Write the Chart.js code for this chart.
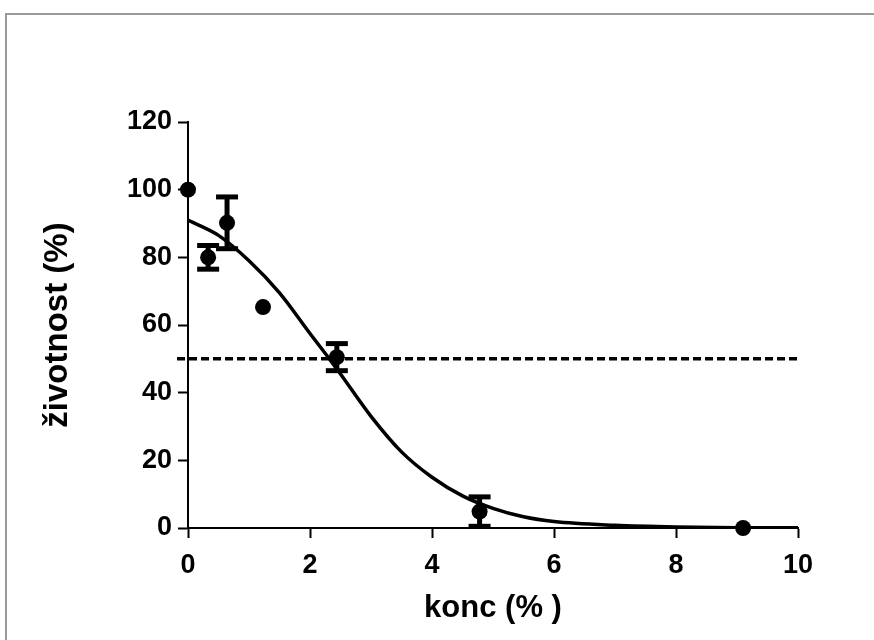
<!DOCTYPE html>
<html>
<head>
<meta charset="utf-8">
<script src="https://cdn.jsdelivr.net/npm/chart.js@4.4.1/dist/chart.umd.min.js"></script>
<style>
  html, body { margin: 0; padding: 0; background: #fff; }
  #wrap { position: relative; width: 874px; height: 640px; overflow: hidden; }
  #frame { position: absolute; left: 5px; top: 13px; width: 1000px; height: 1000px;
           border-left: 2px solid #9a9a9a; border-top: 2px solid #9a9a9a; }
  canvas { position: absolute; left: 0; top: 0; }
</style>
</head>
<body>
<div id="wrap">
  <div id="frame"></div>
  <canvas id="c" width="874" height="640"></canvas>
</div>
<script>
// ---- data ----
const concX  = [0, 0.33, 0.64, 1.23, 2.44, 4.78, 9.1];      // konc (%)
const meanY  = [100, 80, 90.2, 65.3, 50.5, 4.85, 0];         // životnost (%)
const errY   = [0, 3.5, 7.65, 0, 4, 4.35, 0];                // error (±)

const curveX = [0, 0.5, 1, 1.5, 2, 2.33, 2.5, 3, 3.5, 4, 4.5, 5, 5.5, 6, 7, 8, 9, 10];
const curveY = [91, 86.5, 79, 69.5, 57.5, 49.7, 45.5, 33, 22.5, 15, 9.5, 5.8, 3.3, 1.9, 0.8, 0.3, 0.1, 0.05];

const refX = [-0.18, 10];
const refY = [50, 50];

const xTicks = [0, 2, 4, 6, 8, 10];
const yTicks = [0, 20, 40, 60, 80, 100, 120];

const xTitle = 'konc (% )';
const yTitle = 'životnost (%)';

// ---- build datasets ----
const FONT = "'Liberation Sans', Arial, sans-serif";
const datasets = [];

datasets.push({
  type: 'line',
  data: curveX.map((x, i) => ({x, y: curveY[i]})),
  borderColor: '#000', borderWidth: 3.5, pointRadius: 0,
  cubicInterpolationMode: 'monotone', fill: false
});

datasets.push({
  type: 'line',
  data: refX.map((x, i) => ({x, y: refY[i]})),
  borderColor: '#000', borderWidth: 3.5, borderDash: [8, 4], pointRadius: 0,
  fill: false, clip: false
});

concX.forEach((x, i) => {
  if (errY[i] > 0) {
    datasets.push({
      type: 'line',
      data: [{x, y: meanY[i] - errY[i]}, {x, y: meanY[i] + errY[i]}],
      borderColor: '#000', borderWidth: 5,
      pointStyle: 'line', pointRadius: 11, pointBorderWidth: 5,
      pointBorderColor: '#000', pointBackgroundColor: '#000',
      fill: false, clip: false
    });
  }
});

datasets.push({
  type: 'scatter',
  data: concX.map((x, i) => ({x, y: meanY[i]})),
  backgroundColor: '#000', borderColor: '#000',
  pointRadius: 8, borderWidth: 0, clip: false
});

const tickFont = {family: FONT, size: 27, weight: 'bold'};

new Chart(document.getElementById('c'), {
  data: { datasets },
  options: {
    responsive: false,
    animation: false,
    events: [],
    layout: { padding: { left: 0, right: 76, top: 122, bottom: 0 } },
    plugins: { legend: { display: false }, tooltip: { enabled: false } },
    scales: {
      x: {
        type: 'linear', min: 0, max: 10,
        afterBuildTicks: s => { s.ticks = xTicks.map(v => ({value: v})); },
        afterFit: s => { s.height = 112; },
        ticks: { color: '#000', font: tickFont, padding: 11 },
        grid: { display: true, drawOnChartArea: false, drawTicks: true,
                tickLength: 10, tickWidth: 2, tickColor: '#000' },
        border: { display: true, color: '#000', width: 2 },
        title: { display: true, text: xTitle, color: '#000',
                 font: {family: FONT, size: 31, weight: 'bold'},
                 padding: { top: 0, bottom: 13 } }
      },
      y: {
        type: 'linear', min: 0, max: 120,
        afterBuildTicks: s => { s.ticks = yTicks.map(v => ({value: v})); },
        afterFit: s => { s.width = 188; },
        ticks: { color: '#000', font: tickFont, padding: 6 },
        grid: { display: true, drawOnChartArea: false, drawTicks: true,
                tickLength: 10, tickWidth: 2, tickColor: '#000' },
        border: { display: true, color: '#000', width: 2 },
        title: { display: true, text: yTitle, color: '#000',
                 font: {family: FONT, size: 33, weight: 'bold'},
                 padding: { top: 38, bottom: 0 } }
      }
    }
  }
});
</script>
</body>
</html>
